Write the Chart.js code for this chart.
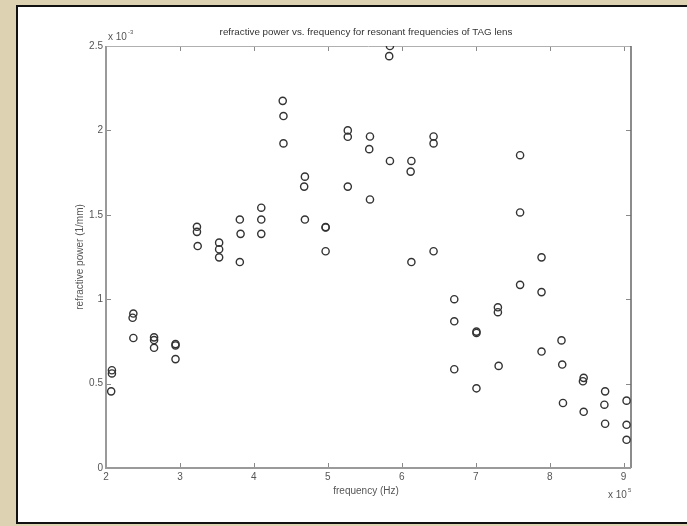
<!DOCTYPE html>
<html>
<head>
<meta charset="utf-8">
<script src="https://cdn.jsdelivr.net/npm/chart.js@4.4.1/dist/chart.umd.min.js"></script>
<style>
  html, body { margin: 0; padding: 0; }
  body { width: 687px; height: 526px; background: #ddd3b3; position: relative; overflow: hidden; }
  #caja { position: absolute; left: 16px; top: 5px; width: 673px; height: 515px;
          background: #fff; border: 2px solid #111; border-right: none; }
  #grafico { position: absolute; left: 0; top: 0; }
</style>
</head>
<body>
<div id="caja"><canvas id="grafico" width="671" height="515"></canvas></div>
<script>
// frecuencia en unidades de 1e5 Hz, potencia en unidades de 1e-3 1/mm
const frecuencia = [
  2.08, 2.08, 2.07,
  2.37, 2.36, 2.37,
  2.65, 2.65, 2.65,
  2.94, 2.94, 2.94,
  3.23, 3.23, 3.24,
  3.53, 3.53, 3.53,
  3.81, 3.82, 3.81,
  4.10, 4.10, 4.10,
  4.39, 4.40, 4.40,
  4.69, 4.68, 4.69,
  4.97, 4.97, 4.97,
  5.27, 5.27, 5.27,
  5.57, 5.56, 5.57,
  5.84, 5.83, 5.84,
  6.13, 6.12, 6.13,
  6.43, 6.43, 6.43,
  6.71, 6.71, 6.71,
  7.01, 7.01, 7.01,
  7.30, 7.30, 7.31,
  7.60, 7.60, 7.60,
  7.89, 7.89, 7.89,
  8.16, 8.17, 8.18,
  8.46, 8.45, 8.46,
  8.75, 8.74, 8.75,
  9.04, 9.04, 9.04
];
const potencia = [
  0.579, 0.560, 0.454,
  0.915, 0.890, 0.770,
  0.774, 0.758, 0.712,
  0.734, 0.726, 0.645,
  1.429, 1.399, 1.315,
  1.335, 1.296, 1.248,
  1.472, 1.387, 1.220,
  1.542, 1.472, 1.387,
  2.175, 2.085, 1.923,
  1.726, 1.667, 1.472,
  1.427, 1.425, 1.284,
  2.000, 1.962, 1.667,
  1.964, 1.889, 1.591,
  2.500, 2.440, 1.819,
  1.819, 1.756, 1.220,
  1.964, 1.923, 1.284,
  1.000, 0.869, 0.585,
  0.808, 0.800, 0.472,
  0.952, 0.923, 0.605,
  1.853, 1.514, 1.085,
  1.248, 1.042, 0.690,
  0.756, 0.613, 0.385,
  0.534, 0.514, 0.333,
  0.454, 0.375, 0.262,
  0.399, 0.256, 0.167
];
const ticksX = [2, 3, 4, 5, 6, 7, 8, 9];
const ticksY = [0, 0.5, 1, 1.5, 2, 2.5];

const puntos = frecuencia.map((f, i) => ({ x: f, y: potencia[i] }));
const fuente = '"Liberation Sans", Arial, sans-serif';

// Marco estilo MATLAB: caja, ticks hacia dentro, titulos y multiplicadores
const marcoMatlab = {
  id: 'marcoMatlab',
  beforeDatasetsDraw(chart) {
    const { ctx, chartArea: a, scales } = chart;
    ctx.save();
    // ticks interiores
    ctx.strokeStyle = '#8a8a8a';
    ctx.lineWidth = 1;
    ctx.beginPath();
    ticksX.forEach(v => {
      const px = Math.round(scales.x.getPixelForValue(v)) + 0.5;
      ctx.moveTo(px, a.bottom); ctx.lineTo(px, a.bottom - 5);
      ctx.moveTo(px, a.top); ctx.lineTo(px, a.top + 5);
    });
    ticksY.forEach(v => {
      const py = Math.round(scales.y.getPixelForValue(v)) + 0.5;
      ctx.moveTo(a.left, py); ctx.lineTo(a.left + 5, py);
      ctx.moveTo(a.right, py); ctx.lineTo(a.right - 5, py);
    });
    ctx.stroke();
    // caja
    ctx.strokeStyle = '#b0b0b0';
    ctx.lineWidth = 1;
    ctx.beginPath();
    ctx.moveTo(a.left, a.top + 0.5); ctx.lineTo(a.right, a.top + 0.5);
    ctx.stroke();
    ctx.strokeStyle = '#666';
    ctx.lineWidth = 1.5;
    ctx.beginPath();
    ctx.moveTo(a.right, a.top); ctx.lineTo(a.right, a.bottom);
    ctx.stroke();
    ctx.strokeStyle = '#9a9a9a';
    ctx.lineWidth = 2;
    ctx.beginPath();
    ctx.moveTo(a.left, a.top); ctx.lineTo(a.left, a.bottom); ctx.lineTo(a.right, a.bottom);
    ctx.stroke();
    ctx.restore();
  },
  afterDraw(chart) {
    const { ctx, chartArea: a } = chart;
    ctx.save();
    ctx.fillStyle = '#333';
    ctx.textBaseline = 'middle';
    ctx.textAlign = 'center';
    ctx.font = '9.8px ' + fuente;
    ctx.fillText('refractive power vs. frequency for resonant frequencies of TAG lens', 348, 25);
    ctx.font = '10px ' + fuente;
    ctx.fillStyle = '#555';
    ctx.fillText('frequency (Hz)', 348, 484);
    ctx.save();
    ctx.translate(62, (a.top + a.bottom) / 2);
    ctx.rotate(-Math.PI / 2);
    ctx.fillText('refractive power (1/mm)', 0, 0);
    ctx.restore();
    // multiplicadores
    ctx.textAlign = 'left';
    ctx.font = '10px ' + fuente;
    ctx.fillText('x 10', a.left + 2, a.top - 9);
    ctx.font = '6px ' + fuente;
    ctx.fillText('-3', a.left + 22, a.top - 14);
    ctx.font = '10px ' + fuente;
    ctx.fillText('x 10', a.right - 23, a.bottom + 27);
    ctx.font = '6px ' + fuente;
    ctx.fillText('5', a.right - 3, a.bottom + 22);
    ctx.restore();
  }
};

new Chart(document.getElementById('grafico'), {
  type: 'scatter',
  data: {
    datasets: [{
      data: puntos,
      pointStyle: 'circle',
      pointRadius: 3.6,
      pointHoverRadius: 3.6,
      borderColor: '#333',
      borderWidth: 1.4,
      backgroundColor: 'rgba(0,0,0,0)'
    }]
  },
  options: {
    responsive: false,
    animation: false,
    layout: { padding: { left: 0, right: 58, top: 39, bottom: 0 } },
    plugins: { legend: { display: false }, tooltip: { enabled: false } },
    scales: {
      x: {
        type: 'linear',
        min: 2,
        max: 9.1,
        afterBuildTicks: s => { s.ticks = ticksX.map(v => ({ value: v })); },
        afterFit: s => { s.height = 54; },
        grid: { display: false, drawTicks: false },
        border: { display: false },
        ticks: { color: '#555', padding: 3, font: { family: fuente, size: 10 }, maxRotation: 0 }
      },
      y: {
        type: 'linear',
        min: 0,
        max: 2.5,
        afterBuildTicks: s => { s.ticks = ticksY.map(v => ({ value: v })); },
        afterFit: s => { s.width = 88; },
        grid: { display: false, drawTicks: false },
        border: { display: false },
        ticks: { color: '#555', padding: 3, font: { family: fuente, size: 10 },
                 callback: v => String(v) }
      }
    }
  },
  plugins: [marcoMatlab]
});
</script>
</body>
</html>
